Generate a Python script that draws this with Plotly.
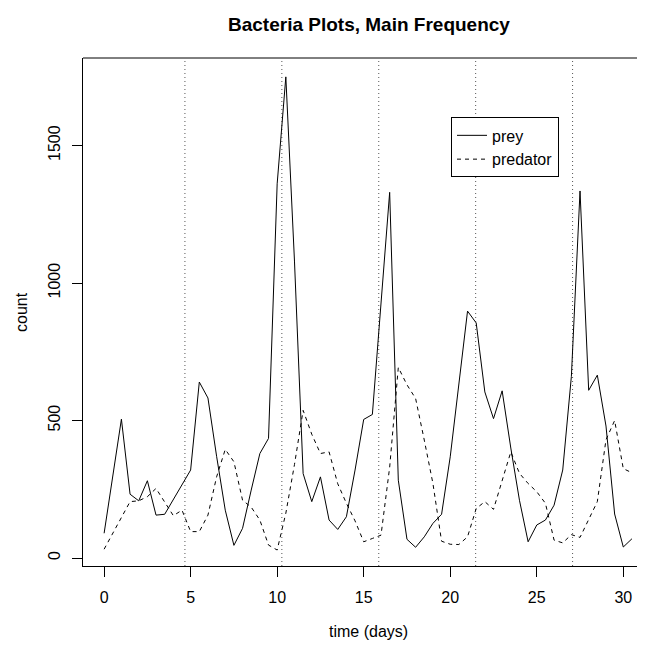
import plotly.graph_objects as go

time_days = [0, 0.5, 1, 1.5, 2, 2.5, 3, 3.5, 4, 4.5, 5, 5.5, 6, 6.5, 7, 7.5, 8, 8.5, 9, 9.5,
             10, 10.5, 11, 11.5, 12, 12.5, 13, 13.5, 14, 14.5, 15, 15.5, 16, 16.5, 17, 17.5,
             18, 18.5, 19, 19.5, 20, 20.5, 21, 21.5, 22, 22.5, 23, 23.5, 24, 24.5, 25, 25.5,
             26, 26.5, 27, 27.5, 28, 28.5, 29, 29.5, 30, 30.5]

prey = [90, 300, 505, 232, 208, 281, 156, 159, 214, 266, 320, 640, 582, 370, 174, 46, 108, 247, 380, 435,
        1361, 1750, 1080, 307, 205, 295, 138, 104, 150, 320, 504, 522, 920, 1330, 283, 68,
        39, 77, 126, 159, 368, 634, 898, 855, 604, 507, 608, 400, 210, 59, 120, 138,
        192, 320, 660, 1335, 610, 665, 480, 160, 40, 70]

predator = [32, 90, 150, 205, 208, 223, 253, 205, 154, 174, 96, 96, 156, 295, 395, 350, 210, 185, 138, 47,
            29, 163, 340, 537, 450, 380, 386, 270, 199, 135, 59, 71, 83, 330, 693, 630,
            580, 429, 271, 61, 50, 49, 77, 180, 205, 177, 283, 386, 308, 271, 241, 199,
            65, 55, 85, 75, 140, 205, 430, 500, 325, 310]

period_marks = [4.67, 10.27, 15.87, 21.47, 27.07]

x_ticks = [0, 5, 10, 15, 20, 25, 30]
y_ticks = [0, 500, 1000, 1500]

FONT = "Liberation Sans, Arial, Helvetica, sans-serif"

# page body has an 8px margin: build the figure 8px smaller and shift targets by -8
OFF = 8
W, H = 645 - OFF, 648 - OFF
box_l, box_t, box_b = 83 - OFF, 57.5 - OFF, 566 - OFF
ml, mr, mt, mb = box_l, 0, box_t, H - box_b
pw, ph = W - ml - mr, H - mt - mb

fig = go.Figure()
fig.add_trace(go.Scatter(x=time_days, y=prey, mode="lines", name="prey",
                         line=dict(color="black", width=1)))
fig.add_trace(go.Scatter(x=time_days, y=predator, mode="lines", name="predator",
                         line=dict(color="black", width=1, dash="4px,4px")))

for v in period_marks:
    fig.add_shape(type="line", xref="x", yref="paper", x0=v, x1=v, y0=0, y1=1,
                  line=dict(color="#555555", width=1, dash="1px,3px"), layer="below")


def px_x(p):
    return (p - OFF - ml) / pw


def px_y(p):
    return (box_b - (p - OFF)) / ph


fig.update_layout(
    width=W, height=H,
    margin=dict(l=ml, r=mr, t=mt, b=mb, pad=0),
    paper_bgcolor="white", plot_bgcolor="white",
    font=dict(family=FONT, size=16, color="black"),
    showlegend=True,
    legend=dict(x=px_x(451), y=px_y(117), xanchor="left", yanchor="top",
                bordercolor="black", borderwidth=1, bgcolor="white",
                font=dict(family=FONT, size=16, color="black"),
                itemwidth=30, tracegroupgap=0, entrywidth=92),
    xaxis=dict(range=[-1.22, (645 - 104.3) / 17.3], tickvals=x_ticks,
               ticktext=[str(v) for v in x_ticks],
               showgrid=False, zeroline=False, showline=True, linecolor="black", linewidth=1,
               mirror=False, ticks="outside", ticklen=10, tickcolor="black", tickwidth=1,
               tickfont=dict(family=FONT, size=16, color="black"), ticklabelstandoff=7),
    yaxis=dict(range=[-29.1, 1818.6], tickvals=y_ticks, ticktext=[str(v) for v in y_ticks],
               showgrid=False, zeroline=False, showline=True, linecolor="black", linewidth=1,
               mirror=False, ticks="outside", ticklen=10, tickcolor="black", tickwidth=1,
               tickangle=-90, tickfont=dict(family=FONT, size=16, color="black"),
               ticklabelstandoff=6),
)

fig.add_shape(type="line", xref="paper", yref="paper", x0=0, x1=1, y0=1, y1=1,
              line=dict(color="black", width=1))

cx = px_x(368.6)
fig.add_annotation(text="<b>Bacteria Plots, Main Frequency</b>", xref="paper", yref="paper",
                   x=cx, y=px_y(24), xanchor="center", yanchor="middle",
                   showarrow=False, font=dict(family=FONT, size=19, color="black"))
fig.add_annotation(text="time (days)", xref="paper", yref="paper",
                   x=cx, y=px_y(632), xanchor="center", yanchor="middle",
                   showarrow=False, font=dict(family=FONT, size=16, color="black"))
fig.add_annotation(text="count", xref="paper", yref="paper", textangle=-90,
                   x=px_x(21), y=0.5, xanchor="center", yanchor="middle",
                   showarrow=False, font=dict(family=FONT, size=16, color="black"))

fig.write_html("out.html")
